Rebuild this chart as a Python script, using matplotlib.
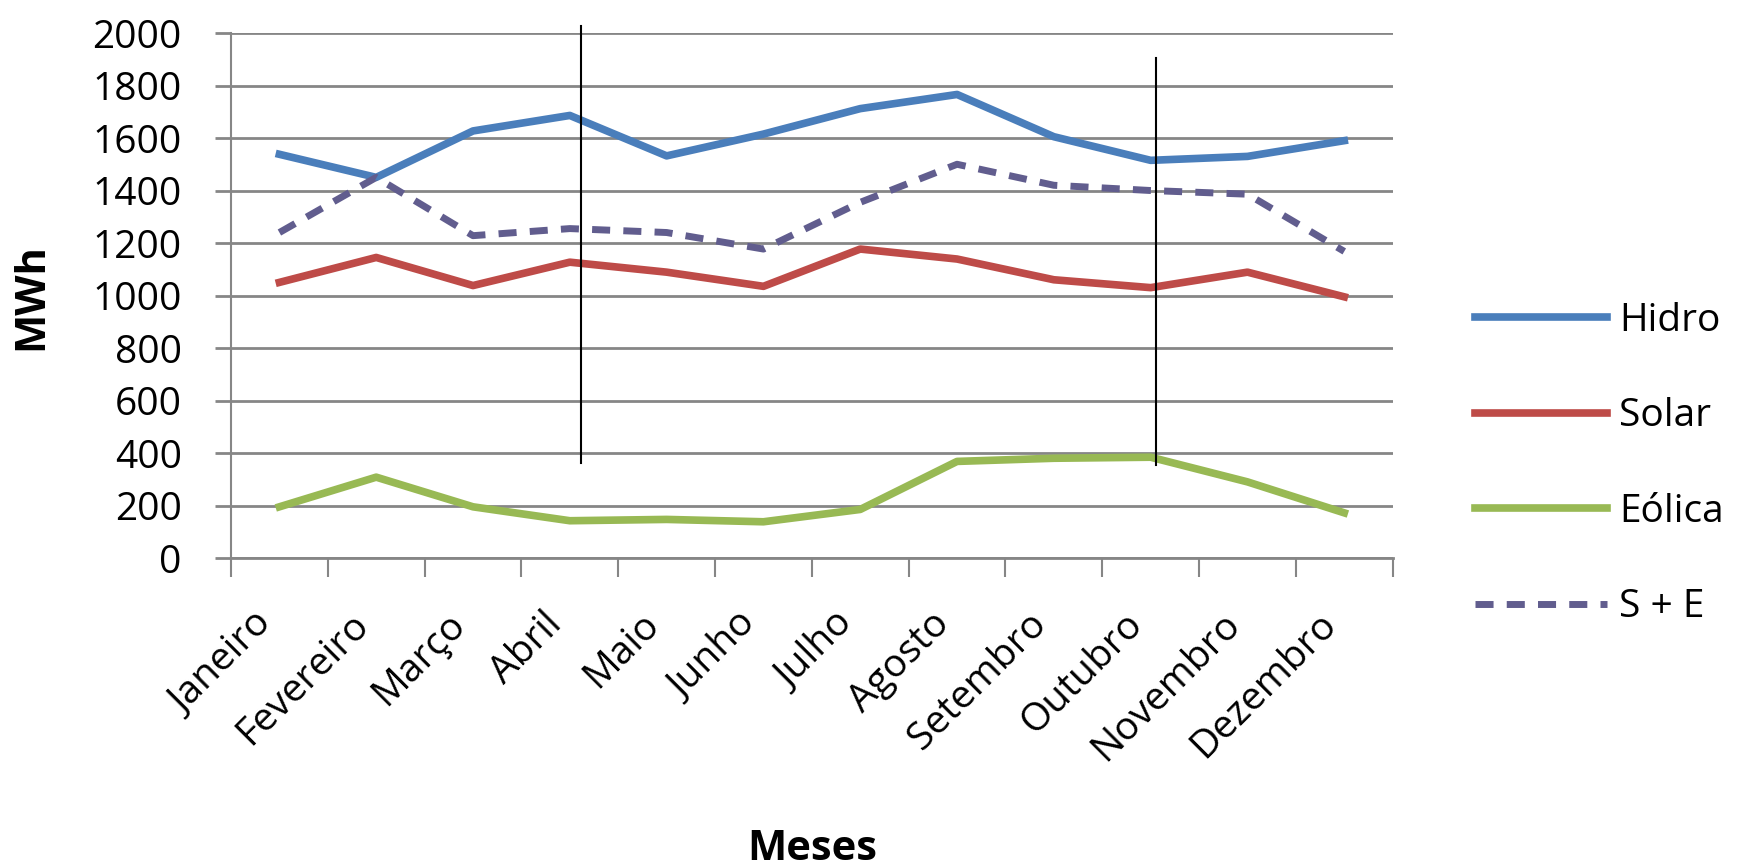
import numpy as np
import matplotlib
matplotlib.use("Agg")
import matplotlib.pyplot as plt

plt.rcParams['font.family'] = ['Open Sans', 'DejaVu Sans']

# dados
meses = ['Janeiro', 'Fevereiro', 'Março', 'Abril', 'Maio', 'Junho', 'Julho',
         'Agosto', 'Setembro', 'Outubro', 'Novembro', 'Dezembro']
hidro = [1538, 1450, 1627, 1686, 1532, 1615, 1712, 1766, 1605, 1515, 1530, 1590]
solar = [1050, 1145, 1038, 1127, 1089, 1035, 1177, 1139, 1060, 1030, 1089, 995]
eolica = [195, 308, 195, 142, 147, 138, 185, 368, 380, 384, 290, 172]
s_e = [1240, 1450, 1228, 1255, 1240, 1177, 1355, 1500, 1420, 1400, 1386, 1168]

# linhas verticais desenhadas à mão (posição x em meses, y de/até)
marcas_x = [3.12, 9.05]
marcas_y0 = [362, 354]
marcas_y1 = [2025, 1904]

cor_grade = '#868686'

fig = plt.figure(figsize=(17.54, 8.67), dpi=100)
ax = fig.add_axes([0.1317, 0.3564, 0.6623, 0.6055])

x = np.arange(len(meses))
ax.plot(x, hidro, color='#4A7EBB', lw=5.5, label='Hidro')
ax.plot(x, solar, color='#BE4B48', lw=5.5, label='Solar')
ax.plot(x, eolica, color='#98B954', lw=5.5, label='Eólica')
ax.plot(x, s_e, color='#615D8E', lw=5, ls=(0, (2.6, 1.9)), label='S + E')

for mx, y0, y1 in zip(marcas_x, marcas_y0, marcas_y1):
    ax.plot([mx, mx], [y0, y1], color='black', lw=1.5, clip_on=False)

ax.set_xlim(-0.5, 11.5)
ax.set_ylim(0, 2000)
ax.set_yticks(range(0, 2001, 200))
ax.grid(axis='y', color=cor_grade, lw=2)
ax.set_axisbelow(True)

# ticks principais nas fronteiras, rótulos no centro
ax.set_xticks(np.arange(-0.5, 12, 1))
ax.set_xticklabels([])
ax.set_xticks(x, minor=True)
ax.set_xticklabels(meses, minor=True, rotation=45, ha='right', fontsize=28)
ax.tick_params(axis='x', which='major', length=14, width=1.5, color=cor_grade)
ax.tick_params(axis='x', which='minor', length=0, pad=34)
ax.tick_params(axis='y', length=11.5, width=2, color=cor_grade, pad=24, labelsize=28)

for s in ['top', 'right']:
    ax.spines[s].set_visible(False)
ax.spines['left'].set_color(cor_grade)
ax.spines['left'].set_linewidth(1.5)
ax.spines['bottom'].set_color(cor_grade)
ax.spines['bottom'].set_linewidth(2)

fig.text(0.018, 1 - 297 / 867, 'MWh', rotation=90, fontsize=30, fontweight='bold',
         ha='center', va='center')
fig.text(0.463, 1 - 850 / 867, 'Meses', fontsize=30, fontweight='bold',
         ha='center', va='center')

fig.legend(loc='upper left', bbox_to_anchor=(0.841, 0.652), frameon=False,
           fontsize=28, handlelength=3.4, handletextpad=0.3, labelspacing=1.48,
           borderpad=0, borderaxespad=0)

fig.savefig('out.png', dpi=100)
